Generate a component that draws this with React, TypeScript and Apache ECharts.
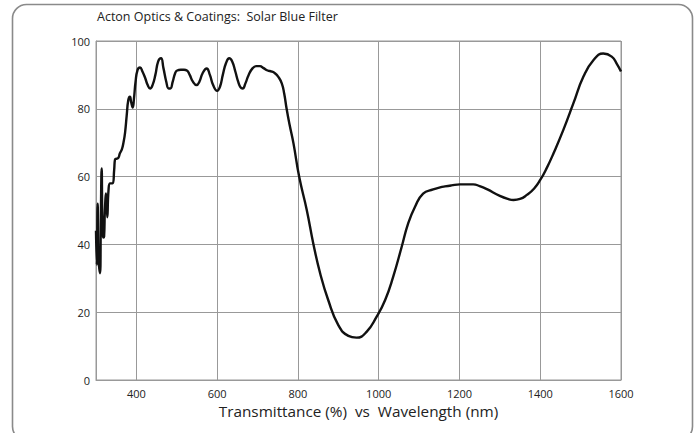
import React, { useEffect, useRef } from "react";
import * as echarts from "echarts";

const TITLE = "Acton Optics & Coatings:  Solar Blue Filter";
const X_NAME = "Transmittance (%)  vs  Wavelength (nm)";

const wavelengths: number[] = [
  300, 302, 304, 306, 308, 310, 312, 314, 316, 318, 320, 322, 325, 328, 331, 335, 341, 345, 347, 355,
  359, 364, 368, 372, 376, 380, 384, 387, 391, 394, 398, 403, 409, 415, 422, 428, 434, 440, 447, 454,
  461, 467, 474, 480, 484, 490, 496, 501, 510, 518, 525, 532, 540, 549, 556, 564, 574, 582, 590, 600,
  607, 614, 622, 630, 637, 645, 652, 658, 663, 670, 678, 688, 697, 706, 715, 725, 735, 743, 751, 760,
  766, 772, 779, 789, 803, 822, 838, 855, 875, 900, 925, 945, 970, 995, 1016, 1036, 1057, 1073, 1090, 1110,
  1135, 1152, 1164, 1180, 1201, 1234, 1250, 1268, 1300, 1320, 1334, 1350, 1367, 1385, 1400, 1416, 1433, 1457, 1482, 1507,
  1532, 1556, 1577, 1590, 1600,
];

const transmittance: number[] = [
  44, 34, 52, 36, 33, 31.5, 48, 62.4, 45, 42, 42.3, 50, 55, 48, 56, 58, 58, 62, 65, 65.5,
  66.8, 68, 70, 73, 78, 82.6, 83.6, 82, 80.4, 83, 88, 91.5, 92.2, 91, 89, 87, 86, 87, 90, 94,
  94.9, 92, 88, 86, 86, 88, 90.5, 91.3, 91.5, 91.5, 91.3, 90, 88, 87, 88, 90.5, 91.9, 90, 87, 85.3,
  86.5, 90, 93.5, 94.9, 94, 91, 88, 86.3, 86, 87.5, 90, 92, 92.6, 92.6, 92, 91.3, 91, 90.5, 89.5, 87.5,
  84.5, 80, 75.5, 69.8, 60, 50.1, 40.3, 31.5, 23.6, 16.2, 13, 12.5, 14.2, 18.7, 23.6, 30.5, 39.3, 46.2, 51.1, 55,
  56.2, 56.8, 57.1, 57.4, 57.7, 57.7, 57.2, 56.3, 54.3, 53.4, 53.1, 53.4, 54.6, 56.5, 59, 62.5, 66.9, 73.7, 81.6, 89.5,
  94.4, 96.3, 95.4, 93.2, 91,
];

const X_MIN = 300;
const X_MAX = 1600;
const X_STEP = 100;
const Y_MIN = 0;
const Y_MAX = 100;
const Y_STEP = 20;

const FONT = "'Open Sans', 'Noto Sans', sans-serif";

export default function App() {
  const ref = useRef<HTMLDivElement>(null);

  useEffect(() => {
    if (!ref.current) return;
    const chart = echarts.init(ref.current, undefined, { renderer: "svg" });
    const points = wavelengths.map((w, i) => [w, transmittance[i]]);
    chart.setOption({
      animation: false,
      backgroundColor: "#ffffff",
      textStyle: { fontFamily: FONT },
      title: {
        text: TITLE,
        left: 92,
        top: 5,
        textStyle: { fontSize: 12.5, fontWeight: "normal", color: "#222", fontFamily: FONT },
      },
      graphic: [
        {
          type: "rect",
          shape: { x: 12.5, y: 4.5, width: 680, height: 436, r: 14 },
          style: { fill: "none", stroke: "#8a8a8a", lineWidth: 1.6 },
          z: -1,
        },
      ],
      grid: {
        left: 96,
        right: 76,
        top: 41,
        bottom: 53,
        show: true,
        borderColor: "#999",
        borderWidth: 1,
      },
      xAxis: {
        type: "value",
        min: X_MIN,
        max: X_MAX,
        interval: X_STEP,
        name: X_NAME,
        nameLocation: "middle",
        nameGap: 22,
        nameTextStyle: { fontSize: 15.3, color: "#222", fontFamily: FONT },
        axisLine: { show: true, lineStyle: { color: "#999", width: 1 } },
        axisTick: { show: false },
        axisLabel: {
          fontSize: 11,
          color: "#222",
          margin: 8,
          showMinLabel: false,
          formatter: (v: number) => (v % 200 === 0 ? String(v) : ""),
        },
        splitLine: {
          show: true,
          lineStyle: { color: ["rgba(0,0,0,0)", "#999"], width: 1 },
        },
      },
      yAxis: {
        type: "value",
        min: Y_MIN,
        max: Y_MAX,
        interval: Y_STEP,
        axisLine: { show: true, lineStyle: { color: "#999", width: 1 } },
        axisTick: { show: false },
        axisLabel: { fontSize: 11, color: "#222", margin: 6 },
        splitLine: { show: true, lineStyle: { color: "#999", width: 1 } },
      },
      series: [
        {
          type: "line",
          data: points,
          showSymbol: false,
          smooth: 0.5,
          lineStyle: { color: "#111", width: 2.4 },
          clip: true,
        },
      ],
    });
    return () => chart.dispose();
  }, []);

  return (
    <div
      ref={ref}
      style={{ position: "fixed", left: 0, top: 0, width: 697, height: 433, background: "#fff" }}
    />
  );
}
